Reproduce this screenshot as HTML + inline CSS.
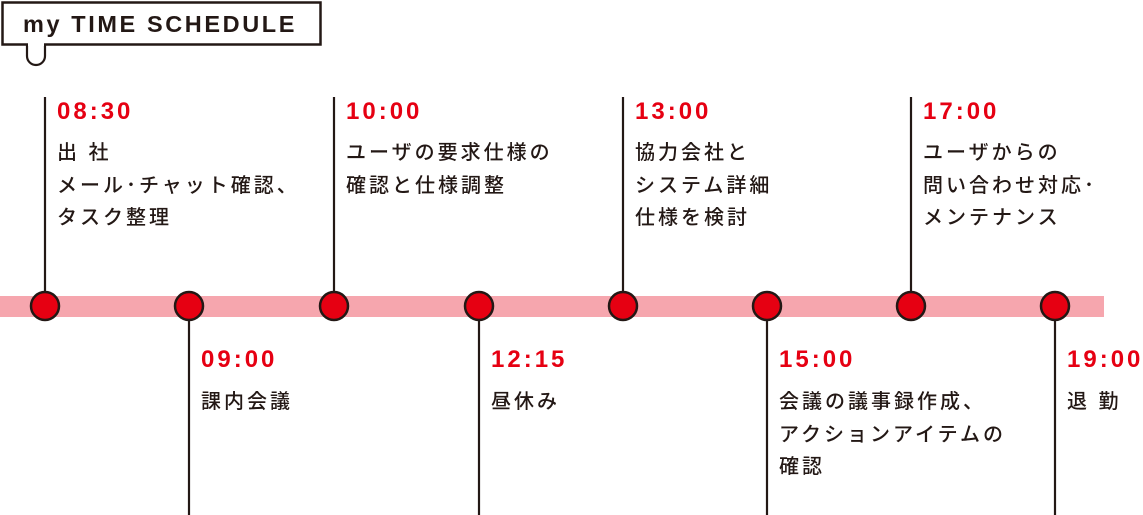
<!DOCTYPE html>
<html><head><meta charset="utf-8"><style>
body{margin:0;width:1143px;height:515px;background:#fff;position:relative;overflow:hidden;font-family:"Liberation Sans","Noto Sans CJK JP",sans-serif;color:#231815}
.t{position:absolute;color:#e60012;font-weight:bold;font-size:24px;letter-spacing:3px;line-height:24px}
.b{position:absolute;font-size:20px;line-height:32.5px;letter-spacing:3px;white-space:nowrap;font-weight:500}
</style></head><body>
<svg width="1143" height="515" style="position:absolute;left:0;top:0">
<rect x="0" y="296" width="1104" height="21" fill="#f6a6ae"/>
<g stroke="#231815" stroke-width="2.2">
<line x1="45" y1="97" x2="45" y2="300"/><line x1="334" y1="97" x2="334" y2="300"/><line x1="623" y1="97" x2="623" y2="300"/><line x1="911" y1="97" x2="911" y2="300"/>
<line x1="189" y1="310" x2="189" y2="515"/><line x1="479" y1="310" x2="479" y2="515"/><line x1="767" y1="310" x2="767" y2="515"/><line x1="1055" y1="310" x2="1055" y2="515"/>
</g>
<g fill="#e60012" stroke="#231815" stroke-width="2.5">
<circle cx="45" cy="306" r="14"/><circle cx="189" cy="306" r="14"/><circle cx="334" cy="306" r="14"/><circle cx="479" cy="306" r="14"/><circle cx="623" cy="306" r="14"/><circle cx="767" cy="306" r="14"/><circle cx="911" cy="306" r="14"/><circle cx="1055" cy="306" r="14"/>
</g>
<path d="M27 45 V56 a9 9 0 0 0 18 0 V45" fill="#fff" stroke="#231815" stroke-width="2.2"/>
<rect x="2.5" y="2.5" width="318" height="42" fill="#fff" stroke="#231815" stroke-width="2.5"/>
<rect x="28" y="43" width="16" height="3" fill="#fff"/>
<text x="23" y="32" font-family="Liberation Sans, sans-serif" font-weight="bold" font-size="23.5" letter-spacing="2.6" fill="#231815">my TIME SCHEDULE</text>
</svg>
<div class="t" style="left:57px;top:100px">08:30</div>
<div class="b" style="left:57px;top:137px">出 社<br>メール･チャット確認、<br>タスク整理</div>
<div class="t" style="left:346px;top:100px">10:00</div>
<div class="b" style="left:346px;top:137px">ユーザの要求仕様の<br>確認と仕様調整</div>
<div class="t" style="left:635px;top:100px">13:00</div>
<div class="b" style="left:635px;top:137px">協力会社と<br>システム詳細<br>仕様を検討</div>
<div class="t" style="left:923px;top:100px">17:00</div>
<div class="b" style="left:923px;top:137px">ユーザからの<br>問い合わせ対応･<br>メンテナンス</div>
<div class="t" style="left:201px;top:348px">09:00</div>
<div class="b" style="left:201px;top:386px">課内会議</div>
<div class="t" style="left:491px;top:348px">12:15</div>
<div class="b" style="left:491px;top:386px">昼休み</div>
<div class="t" style="left:779px;top:348px">15:00</div>
<div class="b" style="left:779px;top:386px">会議の議事録作成、<br>アクションアイテムの<br>確認</div>
<div class="t" style="left:1067px;top:348px">19:00</div>
<div class="b" style="left:1067px;top:386px">退 勤</div>
</body></html>
